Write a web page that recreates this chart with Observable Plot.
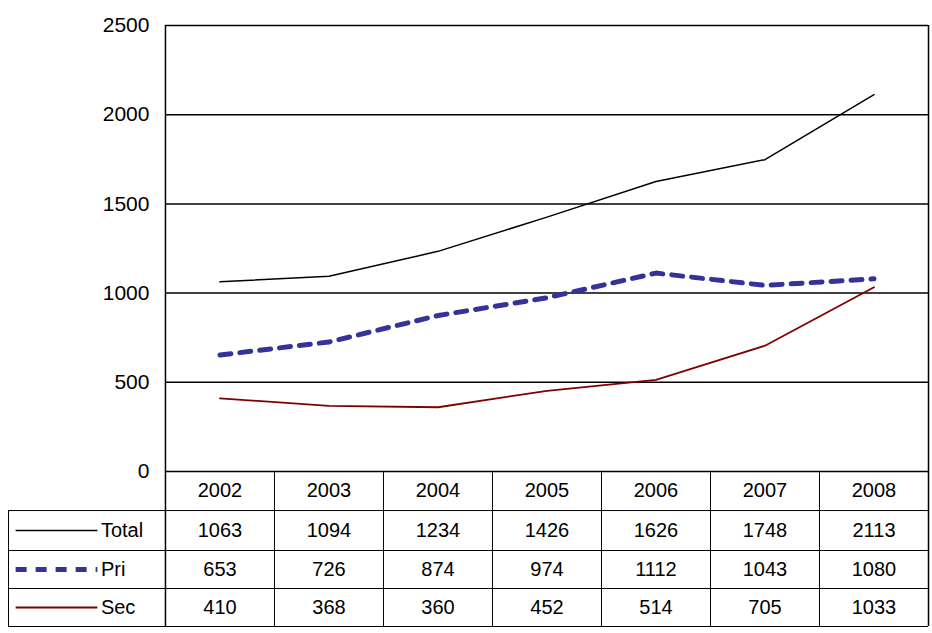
<!DOCTYPE html>
<html><head><meta charset="utf-8">
<script src="https://cdn.jsdelivr.net/npm/d3@7"></script>
<script src="https://cdn.jsdelivr.net/npm/@observablehq/plot@0.6"></script>
<style>body{margin:0;background:#fff}</style>
</head><body><div id="chart"></div>
<script>
const years = [2002, 2003, 2004, 2005, 2006, 2007, 2008]
const total = [1063, 1094, 1234, 1426, 1626, 1748, 2113]
const pri = [653, 726, 874, 974, 1112, 1043, 1080]
const sec = [410, 368, 360, 452, 514, 705, 1033]
const yTicks = [0, 500, 1000, 1500, 2000, 2500]

const series = [
  {name: 'Total', values: total, color: '#000000', width: 1.5, dash: null},
  {name: 'Pri', values: pri, color: '#333399', width: 5, dash: '11,9'},
  {name: 'Sec', values: sec, color: '#800000', width: 1.8, dash: null},
]

// row boundaries of the data table, in y units (below zero)
const rowEdge = [0, -219, -443, -656, -869]
const rowMid = i => (rowEdge[i] + rowEdge[i + 1]) / 2
const x0 = 2001.5, x1 = 2008.5, xL = 2000.06

const cells = []
years.forEach((yr, j) => {
  cells.push({x: yr, y: rowMid(0), t: String(yr)})
  series.forEach((s, i) => cells.push({x: yr, y: rowMid(i + 1), t: String(s.values[j])}))
})

const marks = [
  Plot.ruleY(yTicks.slice(1), {x1: x0, x2: x1, stroke: '#000', strokeWidth: 1.5}),
  Plot.ruleX([x0], {y1: rowEdge[4], y2: 2500, stroke: '#000', strokeWidth: 1.5}),
  Plot.ruleX([x1], {y1: rowEdge[4], y2: 2500, stroke: '#000', strokeWidth: 1.5}),
  Plot.ruleX(years.slice(1).map(y => y - 0.5), {y1: rowEdge[4], y2: 0, stroke: '#000'}),
  Plot.ruleX([xL], {y1: rowEdge[4], y2: rowEdge[1], stroke: '#000'}),
  Plot.ruleY([0], {x1: x0, x2: x1, stroke: '#000', strokeWidth: 1.5}),
  Plot.ruleY(rowEdge.slice(1), {x1: xL, x2: x1, stroke: '#000'}),
  Plot.text(yTicks, {x: x0, y: d => d, text: d => String(d), dx: -16, textAnchor: 'end', fontSize: 21}),
  Plot.text(cells, {x: 'x', y: 'y', text: 't', fontSize: 20}),
]
series.forEach((s, i) => {
  marks.push(Plot.line(years.map((yr, j) => ({x: yr, y: s.values[j]})), {
    x: 'x', y: 'y', stroke: s.color, strokeWidth: s.width, strokeDasharray: s.dash
  }))
  marks.push(Plot.ruleY([rowMid(i + 1)], {x1: 2000.13, x2: 2000.88, stroke: s.color, strokeWidth: s.width, strokeDasharray: s.dash}))
  marks.push(Plot.text([s.name], {x: 2000.88, y: rowMid(i + 1), text: d => d, textAnchor: 'start', dx: 3, fontSize: 20}))
})

const chart = Plot.plot({
  width: 932, height: 633,
  x: {domain: [xL, x1], range: [8, 928], axis: null},
  y: {domain: [rowEdge[4], 2500], range: [626, 25], axis: null},
  style: {fontFamily: 'Liberation Sans, Arial, sans-serif', color: '#000', background: '#fff'},
  marks
})
d3.select('#chart').append(() => chart)
</script>
</body></html>
